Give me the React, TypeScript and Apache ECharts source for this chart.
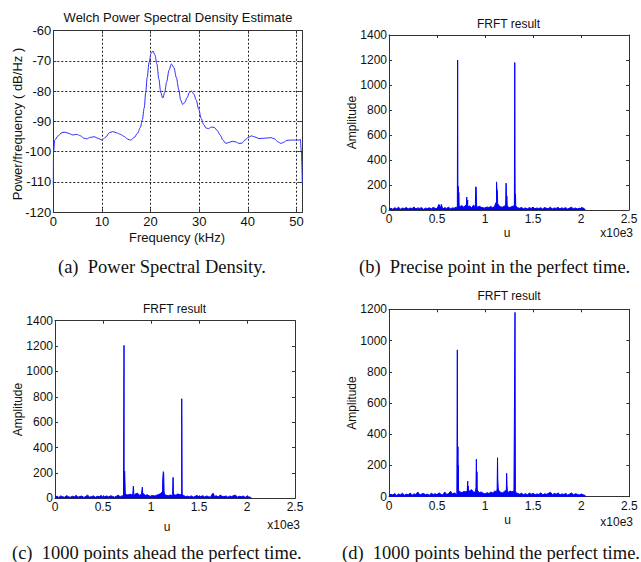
import { useEffect, useRef } from "react";
import * as echarts from "echarts";

const SANS = "'Liberation Sans', Arial, Helvetica, sans-serif";
const SERIF = "'Liberation Serif', 'Times New Roman', serif";

// ---- (a) Welch PSD ----
const psdFreq = [
  0, 0.05, 0.3, 1.0, 1.8, 2.4, 3.2, 4.0, 4.8, 5.6, 6.3, 6.9, 7.6, 8.4, 9.2, 10.0,
  10.8, 11.5, 12.2, 13.0, 13.8, 14.6, 15.3, 15.9, 16.6, 17.3, 17.9, 18.3, 18.7, 19.0,
  19.3, 19.7, 20.1, 20.5, 20.9, 21.3, 21.7, 22.1, 22.5, 22.9, 23.3, 23.8, 24.3, 24.8,
  25.3, 25.8, 26.2, 26.6, 27.0, 27.5, 28.0, 28.4, 28.9, 29.4, 29.9, 30.4, 30.9, 31.4,
  31.9, 32.5, 33.1, 33.7, 34.3, 34.9, 35.5, 36.1, 36.8, 37.5, 38.2, 38.8, 39.4, 40.1,
  40.8, 41.5, 42.3, 43.2, 44.0, 44.8, 45.5, 46.2, 46.8, 47.4, 48.0, 48.8, 49.6, 50.4,
  50.8, 51.0, 51.2,
];
const psdDb = [
  -111, -100, -96.2, -94.8, -93.7, -93.6, -94.0, -94.5, -94.3, -94.8, -95.6, -95.8, -95.3, -95.1, -95.6, -96.2,
  -95.2, -93.8, -93.4, -93.8, -94.3, -95.0, -95.9, -96.2, -95.4, -94.0, -92.0, -89.5, -85.5, -80.5,
  -75.5, -70.5, -67.5, -66.7, -68.0, -71.0, -76.0, -80.5, -82.3, -80.5, -77.0, -73.0, -71.0, -72.2,
  -75.5, -79.5, -83.0, -84.4, -83.8, -82.2, -80.4, -80.0, -81.0, -83.0, -86.0, -89.0, -91.0, -92.2,
  -92.4, -91.9, -92.0, -93.0, -94.5, -96.3, -97.3, -97.0, -96.6, -96.8, -97.3, -97.2, -96.2, -95.3,
  -94.8, -95.2, -95.7, -95.6, -95.5, -95.4, -95.8, -96.8, -97.3, -96.9, -96.3, -96.2, -96.2, -96.2,
  -96.0, -100, -110.5,
];

// ---- FRFT results: noise floor sampled every 0.02 (x10e3), plus peaks [u, amplitude] ----
const noiseStep = 0.02;
const signalEnd = 2.048;

const noiseB = [
  8, 14, 6, 18, 10, 22, 7, 15, 12, 20,
  9, 16, 11, 24, 8, 17, 13, 19, 6, 15,
  12, 18, 9, 21, 14, 10, 45, 16, 8, 19,
  13, 22, 10, 17, 15, 24, 30, 28, 35, 22,
  40, 25, 32, 18, 38, 26, 20, 30, 22, 18,
  15, 24, 20, 28, 19, 30, 35, 40, 26, 22,
  30, 38, 25, 20, 28, 32, 24, 18, 14, 20,
  11, 17, 9, 19, 13, 22, 10, 16, 12, 18,
  8, 20, 14, 11, 23, 9, 16, 13, 21, 10,
  17, 12, 19, 8, 15, 22, 11, 16, 9, 14,
  12, 18, 6,
];
const peaksB = [
  [0.545, 45], [0.712, 15], [0.715, 1200], [0.718, 40], [0.721, 190], [0.724, 60], [0.727, 140], [0.731, 30],
  [0.805, 30], [0.81, 104], [0.813, 40], [0.82, 80], [0.823, 30],
  [0.9, 50], [0.904, 186], [0.908, 180], [0.912, 40],
  [1.115, 60], [1.12, 225], [1.124, 165], [1.128, 160], [1.132, 50],
  [1.215, 40], [1.22, 215], [1.224, 80], [1.228, 110], [1.232, 30],
  [1.306, 40], [1.31, 1180], [1.314, 50], [1.318, 130], [1.322, 30],
];

const noiseC = [
  10, 16, 7, 19, 12, 9, 21, 13, 8, 17,
  11, 23, 9, 14, 18, 7, 15, 25, 10, 13,
  19, 8, 16, 12, 22, 9, 14, 18, 11, 20,
  15, 9, 17, 24, 12, 21, 35, 30, 26, 32,
  28, 22, 35, 40, 25, 30, 38, 22, 28, 19,
  16, 22, 18, 25, 30, 38, 28, 34, 24, 20,
  26, 22, 30, 24, 35, 28, 18, 22, 14, 17,
  12, 19, 9, 16, 22, 11, 15, 20, 10, 18,
  13, 9, 36, 14, 20, 11, 25, 16, 12, 19,
  9, 17, 14, 21, 24, 10, 16, 12, 18, 8,
  14, 11, 7,
];
const peaksC = [
  [0.714, 15], [0.719, 1205], [0.722, 60], [0.725, 215], [0.728, 150], [0.732, 40],
  [0.81, 30], [0.816, 95], [0.82, 60], [0.824, 25],
  [0.905, 30], [0.91, 88], [0.914, 30],
  [1.118, 50], [1.122, 145], [1.128, 210], [1.132, 200], [1.136, 60], [1.14, 30],
  [1.225, 30], [1.23, 165], [1.234, 30],
  [1.316, 30], [1.32, 785], [1.324, 30],
  [1.65, 38],
];

const noiseD = [
  9, 15, 11, 20, 8, 17, 13, 22, 10, 16,
  12, 24, 9, 18, 14, 30, 11, 17, 20, 13,
  16, 10, 22, 14, 19, 12, 25, 16, 11, 30,
  14, 20, 35, 18, 24, 16, 40, 30, 26, 34,
  30, 25, 38, 45, 28, 32, 40, 26, 30, 22,
  18, 26, 20, 30, 24, 36, 32, 42, 28, 24,
  34, 40, 28, 36, 30, 38, 26, 20, 16, 22,
  13, 20, 11, 24, 15, 22, 12, 18, 14, 25,
  11, 19, 15, 22, 28, 13, 21, 16, 24, 12,
  18, 14, 21, 10, 17, 24, 12, 19, 15, 11,
  16, 12, 8,
];
const peaksD = [
  [0.706, 20], [0.711, 940], [0.714, 40], [0.717, 320], [0.72, 200], [0.724, 40],
  [0.814, 40], [0.819, 100], [0.823, 70], [0.827, 30],
  [0.905, 60], [0.909, 240], [0.912, 90], [0.915, 160], [0.919, 30],
  [1.125, 50], [1.129, 250], [1.132, 110], [1.136, 60], [1.14, 30],
  [1.22, 30], [1.224, 150], [1.228, 70], [1.232, 30],
  [1.306, 40], [1.311, 1180], [1.315, 40],
];

function frftSeries(noise: number[], peaks: number[][]) {
  const pts: number[][] = noise.map((v, i) => [i * noiseStep, v]);
  peaks.forEach((p) => pts.push([p[0], p[1]]));
  pts.sort((a, b) => a[0] - b[0]);
  pts.push([signalEnd, 0]);
  return pts;
}

const AX = "#333";
const plain = (v: number) => String(Math.round(v * 1000) / 1000);

function boxAxes(
  gridIndex: number,
  x: { min: number; max: number; interval: number; showMaxLabel?: boolean },
  y: { min: number; max: number; interval: number },
  fontSize: number,
  dashed: boolean
) {
  const split = {
    show: dashed,
    lineStyle: { type: [2, 2], color: "#222", width: 1 },
  };
  const tick = { show: true, inside: true, length: 3, lineStyle: { color: AX, width: 1 } };
  const line = { show: true, onZero: false, lineStyle: { color: AX, width: 1 } };
  const label = { color: "#111", fontFamily: SANS, fontSize, formatter: plain };
  const xAxes = [
    {
      type: "value", gridIndex, min: x.min, max: x.max, interval: x.interval, position: "bottom",
      axisLine: line, axisTick: tick, splitLine: split,
      axisLabel: { ...label, margin: 3, showMaxLabel: x.showMaxLabel !== false },
    },
    {
      type: "value", gridIndex, min: x.min, max: x.max, interval: x.interval, position: "top",
      axisLine: line, axisTick: tick, splitLine: { show: false }, axisLabel: { show: false },
    },
  ];
  const yAxes = [
    {
      type: "value", gridIndex, min: y.min, max: y.max, interval: y.interval, position: "left",
      axisLine: line, axisTick: tick, splitLine: split,
      axisLabel: { ...label, margin: 2 },
    },
    {
      type: "value", gridIndex, min: y.min, max: y.max, interval: y.interval, position: "right",
      axisLine: line, axisTick: tick, splitLine: { show: false }, axisLabel: { show: false },
    },
  ];
  return { xAxes, yAxes };
}

function txt(text: string, x: number, y: number, fontSize: number, opts: any = {}) {
  const align = opts.align || "center";
  return {
    type: "text",
    x,
    y,
    rotation: opts.rotation || 0,
    style: {
      text,
      fontSize,
      fontFamily: opts.font || SANS,
      fill: "#111",
      align,
      textAlign: align,
      verticalAlign: "middle",
      textVerticalAlign: "middle",
    },
  };
}

export default function App() {
  const ref = useRef<HTMLDivElement>(null);
  useEffect(() => {
    if (!ref.current) return;
    const chart = echarts.init(ref.current, null, { renderer: "svg" });

    const a = boxAxes(0, { min: 0, max: 51.2, interval: 10, showMaxLabel: false }, { min: -120, max: -60, interval: 10 }, 13, true);
    const b = boxAxes(1, { min: 0, max: 2.5, interval: 0.5 }, { min: 0, max: 1400, interval: 200 }, 12, false);
    const c = boxAxes(2, { min: 0, max: 2.5, interval: 0.5 }, { min: 0, max: 1400, interval: 200 }, 12, false);
    const d = boxAxes(3, { min: 0, max: 2.5, interval: 0.5 }, { min: 0, max: 1200, interval: 200 }, 12, false);

    const frftStyle = {
      type: "line",
      showSymbol: false,
      symbol: "none",
      lineStyle: { color: "#0000ff", width: 1 },
      areaStyle: { color: "#0000ff", opacity: 1, origin: "start" },
      itemStyle: { color: "#0000ff" },
    };

    const option: any = {
      animation: false,
      backgroundColor: "#ffffff",
      grid: [
        { left: 53.3, top: 30.7, width: 249, height: 181.3 },
        { left: 389, top: 35, width: 240, height: 175 },
        { left: 55, top: 320.7, width: 240, height: 177.6 },
        { left: 389, top: 309.3, width: 240.3, height: 187.4 },
      ],
      xAxis: [...a.xAxes, ...b.xAxes, ...c.xAxes, ...d.xAxes],
      yAxis: [...a.yAxes, ...b.yAxes, ...c.yAxes, ...d.yAxes],
      series: [
        {
          type: "line",
          xAxisIndex: 0,
          yAxisIndex: 0,
          data: psdFreq.map((f, i) => [f, psdDb[i]]),
          showSymbol: false,
          symbol: "none",
          smooth: 0.3,
          smoothMonotone: "x",
          lineStyle: { color: "#2b2bff", width: 1 },
        },
        { ...frftStyle, xAxisIndex: 2, yAxisIndex: 2, data: frftSeries(noiseB, peaksB) },
        { ...frftStyle, xAxisIndex: 4, yAxisIndex: 4, data: frftSeries(noiseC, peaksC) },
        { ...frftStyle, xAxisIndex: 6, yAxisIndex: 6, data: frftSeries(noiseD, peaksD) },
      ],
      graphic: [
        // (a)
        txt("Welch Power Spectral Density Estimate", 178, 17, 13),
        txt("Frequency (kHz)", 177, 237, 13),
        txt("Power/frequency ( dB/Hz )", 17, 124, 13, { rotation: Math.PI / 2 }),
        // (b)
        txt("FRFT result", 508.5, 23.5, 12),
        txt("Amplitude", 352, 122.5, 12, { rotation: Math.PI / 2 }),
        txt("u", 507, 233, 12),
        txt("x10e3", 633, 233, 12, { align: "right" }),
        // (c)
        txt("FRFT result", 174.5, 308.5, 12),
        txt("Amplitude", 17.5, 409.5, 12, { rotation: Math.PI / 2 }),
        txt("u", 167, 527, 12),
        txt("x10e3", 300, 525, 12, { align: "right" }),
        // (d)
        txt("FRFT result", 509, 296, 12),
        txt("Amplitude", 352, 403, 12, { rotation: Math.PI / 2 }),
        txt("u", 507.5, 520, 12),
        txt("x10e3", 633, 521.5, 12, { align: "right" }),
        // captions
        txt("(a)\u00a0\u00a0Power Spectral Density.", 58, 267, 18.5, { font: SERIF, align: "left" }),
        txt("(b)\u00a0\u00a0Precise point in the perfect time.", 359, 267, 18.5, { font: SERIF, align: "left" }),
        txt("(c)\u00a0\u00a01000 points ahead the perfect time.", 12, 553, 18.5, { font: SERIF, align: "left" }),
        txt("(d)\u00a0\u00a01000 points behind the perfect time.", 342, 553, 18.5, { font: SERIF, align: "left" }),
      ],
    };
    chart.setOption(option);
    return () => chart.dispose();
  }, []);
  return (
    <div
      ref={ref}
      style={{ position: "absolute", left: 0, top: 0, width: 641, height: 562, background: "#fff" }}
    />
  );
}
